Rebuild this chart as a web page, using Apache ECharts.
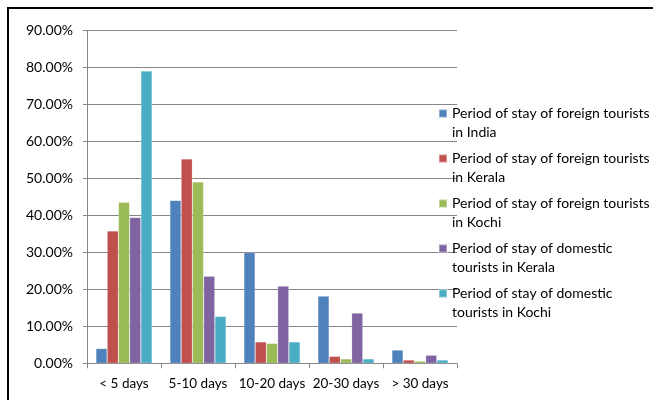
<!DOCTYPE html>
<html>
<head>
<meta charset="utf-8">
<script src="https://cdn.jsdelivr.net/npm/echarts@6/dist/echarts.min.js"></script>
<style>
  html, body { margin: 0; padding: 0; background: #fff; }
  #chart { width: 653px; height: 400px; }
</style>
</head>
<body>
<div id="chart"></div>
<script>
// Length-of-stay categories
const categories = ['< 5 days', '5-10 days', '10-20 days', '20-30 days', '> 30 days'];

// Share of tourists (%) per stay period
const foreignIndia   = [4.0, 44.1, 30.0, 18.2, 3.6];
const foreignKerala  = [35.8, 55.3, 5.8, 1.9, 0.9];
const foreignKochi   = [43.6, 49.1, 5.4, 1.2, 0.6];
const domesticKerala = [39.5, 23.6, 20.9, 13.6, 2.2];
const domesticKochi  = [79.1, 12.7, 5.8, 1.2, 0.9];

const seriesNames = [
  'Period of stay of foreign tourists\nin India',
  'Period of stay of foreign tourists\nin Kerala',
  'Period of stay of foreign tourists\nin Kochi',
  'Period of stay of domestic\ntourists in Kerala',
  'Period of stay of domestic\ntourists in Kochi'
];
const seriesData = [foreignIndia, foreignKerala, foreignKochi, domesticKerala, domesticKochi];
const colors = ['#4F81BD', '#C0504D', '#9BBB59', '#8064A2', '#4BACC6'];

const FONT = 'Lato, "Open Sans", sans-serif';

const chart = echarts.init(document.getElementById('chart'), null, { renderer: 'canvas' });

chart.setOption({
  animation: false,
  color: colors,
  grid: { left: 87, top: 30.7, width: 370, height: 332.6, containLabel: false },
  graphic: [
    { type: 'line', shape: { x1: 7, y1: 8, x2: 653, y2: 8 }, style: { stroke: '#000', lineWidth: 2 } },
    { type: 'line', shape: { x1: 8, y1: 8, x2: 8, y2: 400 }, style: { stroke: '#000', lineWidth: 2 } }
  ],
  legend: {
    orient: 'vertical',
    left: 433,
    top: 80,
    height: 320,
    itemWidth: 8,
    itemHeight: 8,
    itemGap: -12,
    icon: 'rect',
    data: seriesNames,
    // blank leading line keeps the marker level with the first text line
    formatter: name => '\n' + name,
    textStyle: {
      fontFamily: FONT,
      fontSize: 14,
      color: '#000',
      lineHeight: 19
    }
  },
  xAxis: {
    type: 'category',
    data: categories,
    axisLine: { lineStyle: { color: '#868686', width: 1 } },
    axisTick: { show: true, length: 5, lineStyle: { color: '#868686' } },
    axisLabel: { fontFamily: FONT, fontSize: 13.5, color: '#000', margin: 13, interval: 0 },
    splitLine: { show: false }
  },
  yAxis: {
    type: 'value',
    min: 0,
    max: 90,
    interval: 10,
    axisLine: { show: true, lineStyle: { color: '#868686', width: 1 } },
    axisTick: { show: true, length: 4, lineStyle: { color: '#868686' } },
    axisLabel: {
      fontFamily: FONT,
      fontSize: 14,
      color: '#000',
      margin: 14,
      formatter: v => v.toFixed(2) + '%'
    },
    splitLine: { lineStyle: { color: '#868686', width: 1 } }
  },
  series: seriesData.map((d, i) => ({
    name: seriesNames[i],
    type: 'bar',
    data: d,
    barGap: '0%',
    barCategoryGap: '24%',
    itemStyle: { color: colors[i], borderColor: 'rgba(255,255,255,0.35)', borderWidth: 0.6 }
  }))
});
</script>
</body>
</html>
